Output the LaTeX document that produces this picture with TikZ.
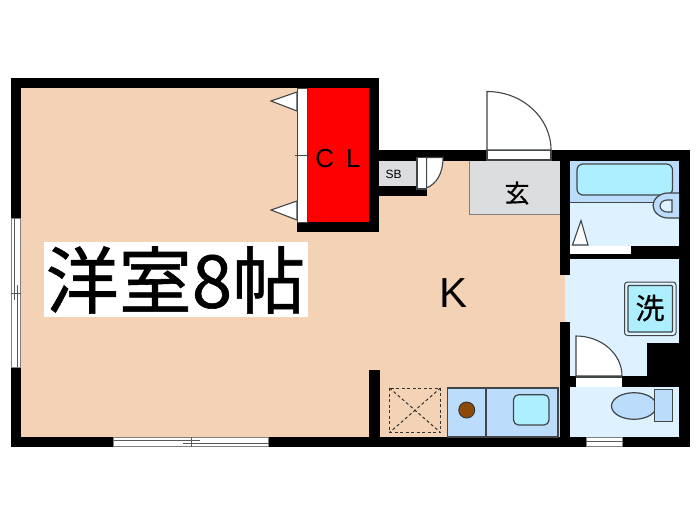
\documentclass[tikz,border=0pt]{standalone}
\usepackage{fontspec}
\setmainfont{Liberation Sans}
\newfontfamily\cjk[FakeBold=0.8]{Noto Sans CJK JP}
\newfontfamily\cjksmall[FakeBold=0.5]{Noto Sans CJK JP}
\definecolor{tan}{HTML}{F3D2B5}
\definecolor{wetfloor}{HTML}{DDF1FF}
\definecolor{fixture}{HTML}{BBDCFA}
\definecolor{basin}{HTML}{ADEFFF}
\definecolor{entry}{HTML}{DCDDDF}
\definecolor{frame}{HTML}{404548}
\definecolor{stove}{HTML}{8B4A0A}
\tikzset{
  wall/.style={fill=black,draw=none},
  fixt/.style={fill=fixture,draw=frame,line width=1.2pt},
  basn/.style={fill=basin,draw=frame,line width=1.2pt},
  door/.style={fill=white,draw=frame,line width=1.1pt},
  win/.style={fill=white,draw=gray,line width=.7pt},
  winline/.style={draw=gray!70!black,line width=.7pt},
  dashline/.style={draw=black!80,line width=1pt,dash pattern=on 3pt off 2.5pt},
  lbl/.style={inner sep=0pt,text=black}
}
\begin{document}
\begin{tikzpicture}[x=1pt,y=-1pt]
\useasboundingbox (0,0) rectangle (700,525);
\fill[white] (0,0) rectangle (700,525);
% floors
\fill[tan] (21,88)--(307,88)--(307,232)--(379,232)--(379,196)--(427,196)--(427,160)--(565,160)--(565,437)--(21,437)--cycle;
\fill[wetfloor] (564.5,259) rectangle (679,376);
\fill[wetfloor] (570,160) rectangle (679,246);
\fill[fixture] (570,160) rectangle (679,202.5);
\draw[frame,line width=1pt] (570,202.5)--(655,202.5);
\fill[wetfloor] (570,387) rectangle (679,437);
\fill[red] (307,88) rectangle (369,222);
\fill[entry] (379,160.5) rectangle (417,186);
\filldraw[fill=entry,draw=gray,line width=.7pt] (469,160.5) rectangle (560,214);
% walls
\fill[wall] (11,78) rectangle (379,88);
\fill[wall] (11,78) rectangle (21,447);
\fill[wall] (11,437) rectangle (689.5,447);
\fill[wall] (369,78) rectangle (379,232);
\fill[wall] (297,222) rectangle (379,232);
\fill[wall] (379,150) rectangle (689.5,160.5);
\fill[wall] (560,150) rectangle (570,275);
\fill[wall] (560,322) rectangle (570,437);
\fill[wall] (679,150) rectangle (689.5,447);
\fill[wall] (631,245.5) rectangle (679,259);
\fill[wall] (570,253.5) rectangle (631,259);
\fill[wall] (570,376) rectangle (679,387);
\fill[wall] (646.5,343) rectangle (679,376);
\fill[wall] (379,186) rectangle (427,196);
\fill[wall] (368.5,369.5) rectangle (379.5,437);
% closet doors
\filldraw[door,line width=.6pt] (297,88) rectangle (307,222);
\draw[frame,line width=.7pt] (295,155.7)--(309,155.7);
\filldraw[door] (271,101)--(297,92)--(297,111)--cycle;
\filldraw[door] (271,210)--(297,201)--(297,220)--cycle;
% entrance door
\filldraw[door] (487,150)--(487,91.5) .. controls (522.3,91.5) and (551,117.7) .. (551,150)--cycle;
\filldraw[door] (487,150.5) rectangle (551,160);
% SB door
\filldraw[door] (426.5,157.5)--(443,157.5) .. controls (443,174.3) and (436,184) .. (426.5,188)--cycle;
\filldraw[door] (417,157.5) rectangle (426.5,189);
% bath
\filldraw[basn,rounded corners=6pt] (577,164) rectangle (672.5,195);
\filldraw[fixt] (679,193)--(668,193) .. controls (660,193) and (653,199) .. (653,205.5) .. controls (653,212) and (660,218) .. (668,218)--(679,218);
\filldraw[fill=wetfloor,draw=frame,line width=1.1pt] (672,200)--(667,200) .. controls (663,200) and (660,203) .. (660,206) .. controls (660,209) and (663,212) .. (667,212)--(672,212)--cycle;
\filldraw[door] (581,220.5)--(572.5,245)--(588,245)--cycle;
\fill[white] (570.5,245.5) rectangle (631,253.5);
% washer
\filldraw[fill=wetfloor,draw=frame,line width=1pt,rounded corners=3pt] (624.5,282) rectangle (676,335.5);
\filldraw[fill=basin,draw=frame,line width=1.3pt,rounded corners=1pt] (628,285.5) rectangle (672.5,332);
% wash door
\filldraw[door] (576,376)--(576,336) .. controls (601.4,336) and (622,353.9) .. (622,376)--cycle;
\filldraw[door,draw=none] (576,377) rectangle (621.5,386.5);
\draw[frame,line width=1.1pt] (576,377)--(621.5,377);
% toilet
\filldraw[fixt] (634,406) ellipse[x radius=22.5,y radius=13.3];
\filldraw[fixt] (654.5,389.5) rectangle (672.5,421.5);
% windows
\filldraw[win] (586,437) rectangle (622,446.5);
\draw[winline] (586,441.7)--(622,441.7);
\filldraw[win] (113.5,437) rectangle (268.5,446.5);
\draw[winline] (113.5,440)--(200,440) (183,443)--(268.5,443) (191,437)--(191,446.5);
\filldraw[win] (11,218) rectangle (20.5,367);
\draw[winline] (14,218)--(14,300) (17,285)--(17,367) (11,293)--(20.5,293);
% kitchen
\draw[dashline] (389.5,388) rectangle (440.5,432.5);
\draw[dashline] (389.5,388)--(440.5,432.5) (440.5,388)--(389.5,432.5);
\filldraw[fixt] (447.5,388) rectangle (486,437);
\filldraw[fixt] (486,388) rectangle (558,437);
\filldraw[fill=stove,draw=black!80,line width=.9pt] (466.7,410) circle[radius=8];
\filldraw[basn,rounded corners=5pt] (513.5,394.7) rectangle (549,425);
% labels
\fill[white] (43.7,241.7) rectangle (308,317.3);
\node[lbl,font=\cjk\fontsize{73}{73}\selectfont] (room) at (175.5,280) {洋室8帖};
\node[lbl,font=\fontsize{42}{42}\selectfont] (kit) at (453,293) {K};
\node[lbl,font=\fontsize{26}{26}\selectfont] (cl) at (338,159) {C\hspace{12pt}L};
\node[lbl,font=\fontsize{12}{12}\selectfont] (sb) at (393.5,174) {SB};
\node[lbl,font=\cjksmall\fontsize{25}{25}\selectfont] (genkan) at (517,193) {玄};
\node[lbl,font=\cjksmall\fontsize{29}{29}\selectfont] (wash) at (650,308) {洗};
\end{tikzpicture}
\end{document}
